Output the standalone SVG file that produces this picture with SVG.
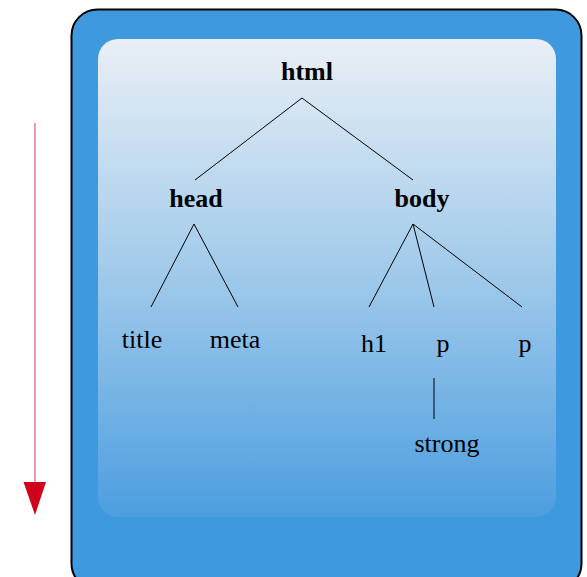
<svg xmlns="http://www.w3.org/2000/svg" width="587" height="577" viewBox="0 0 587 577">
<style>
.t{font-family:"Liberation Serif","Times New Roman",serif;font-size:26px;fill:#000;text-anchor:middle}
.b{font-weight:bold}
.c line{stroke:#000;stroke-width:1}
</style>
<defs>
<linearGradient id="g" x1="0" y1="0" x2="0" y2="1">
<stop offset="0" stop-color="#e9eff5"/>
<stop offset="0.5" stop-color="#9fc9ea"/>
<stop offset="1" stop-color="#4c9ee0"/>
</linearGradient>
</defs>
<g id="frame">
<rect x="71.5" y="9.5" width="510" height="580" rx="26" fill="#3f99de" stroke="#000" stroke-width="2"/>
<rect x="98" y="39" width="458" height="478" rx="20" fill="url(#g)"/>
</g>
<g id="arrow">
<line x1="35" y1="123" x2="35" y2="484" stroke="#e77a88" stroke-width="1.5"/>
<polygon points="23.5,482 46,482 35,515" fill="#d0021b"/>
</g>
<g class="c" id="connectors">
<line x1="302" y1="98" x2="195" y2="180"/>
<line x1="302" y1="98" x2="413" y2="180"/>
<line x1="194" y1="224" x2="151" y2="307"/>
<line x1="194" y1="224" x2="238" y2="307"/>
<line x1="413" y1="224" x2="369" y2="307"/>
<line x1="413" y1="224" x2="434" y2="307"/>
<line x1="413" y1="224" x2="522" y2="307"/>
<line x1="434" y1="378" x2="434" y2="419"/>
</g>
<g id="n-html"><text class="t b" x="307" y="80">html</text></g>
<g id="n-head"><text class="t b" x="196" y="207">head</text></g>
<g id="n-body"><text class="t b" x="422" y="207">body</text></g>
<g id="n-title"><text class="t" x="142" y="348">title</text></g>
<g id="n-meta"><text class="t" x="235" y="348">meta</text></g>
<g id="n-h1"><text class="t" x="374" y="352">h1</text></g>
<g id="n-p1"><text class="t" x="443" y="352">p</text></g>
<g id="n-p2"><text class="t" x="525" y="352">p</text></g>
<g id="n-strong"><text class="t" x="447" y="452">strong</text></g>
</svg>
